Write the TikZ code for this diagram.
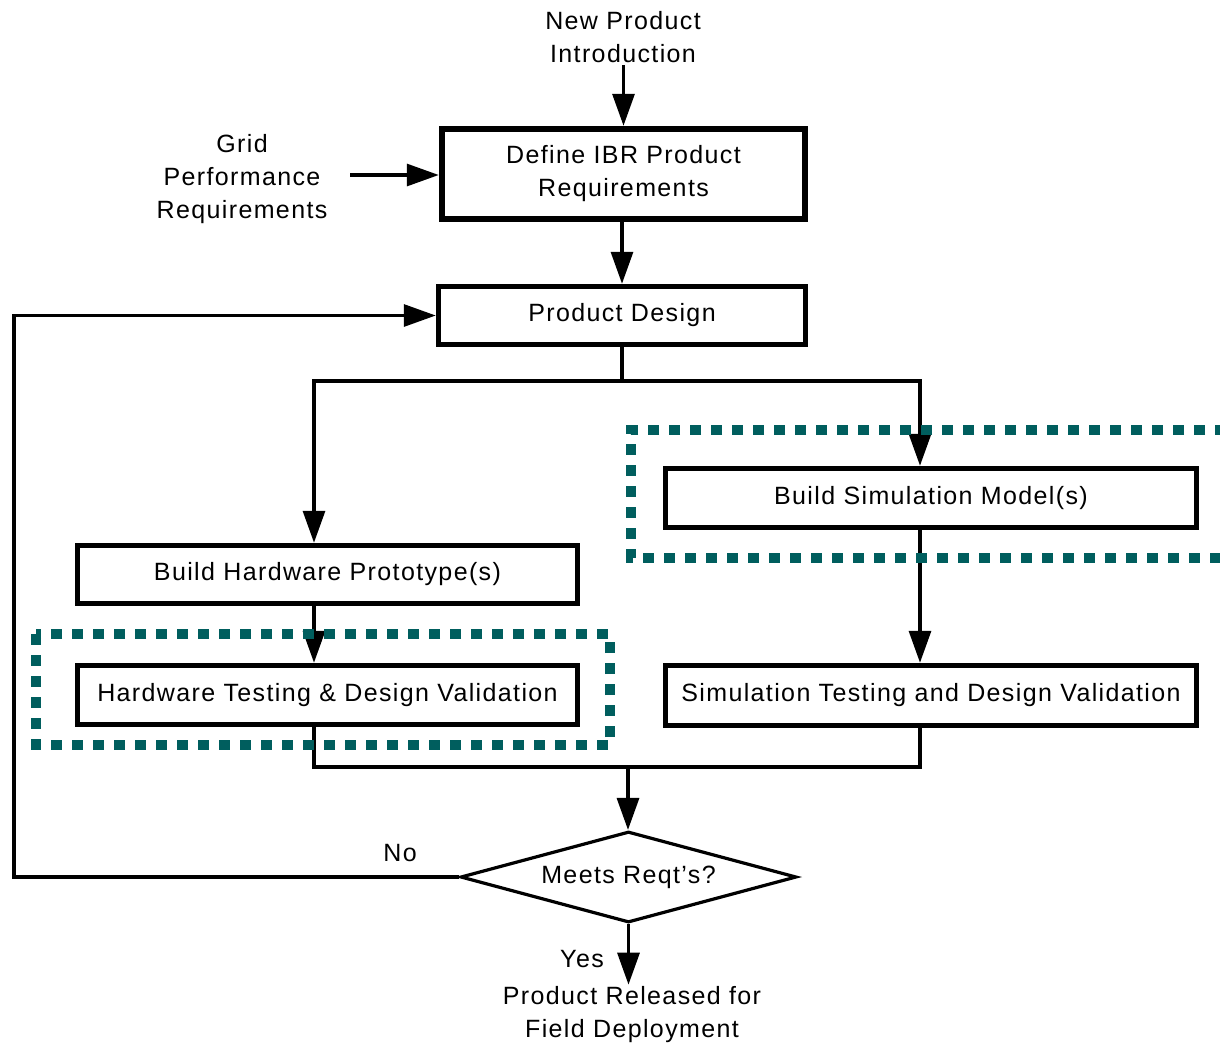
\documentclass[tikz,border=0pt]{standalone}
\usepackage{fontspec}
\setmainfont{Liberation Sans}[LetterSpace=5.5]
\usetikzlibrary{arrows.meta,shapes.geometric,calc}
\definecolor{dotteal}{RGB}{0,94,94}
\tikzset{
  every node/.style={font=\fontsize{25}{33}\selectfont},
  proc/.style={draw, line width=5.5pt, inner sep=0pt, align=center},
  txt/.style={align=center, inner sep=2pt},
  conn/.style={line width=3.2pt},
  arr/.style={line width=3.2pt, -{Triangle[length=32pt,width=22pt]}},
  dotbox/.style={draw=dotteal, line width=10pt, dash pattern=on 11pt off 10pt}
}
\begin{document}
\begin{tikzpicture}[x=1pt,y=-1pt]
\useasboundingbox (0,0) rectangle (1220,1045);
\fill[white] (0,0) rectangle (1220,1045);

% nodes
\node[txt] (np) at (623,37) {New Product\\Introduction};
\node[txt] (gr) at (242,179) {Grid\\Performance\\Requirements};
\node[proc, line width=6.5pt, minimum width=363pt, minimum height=90pt] (ibr) at (623.5,174) {Define IBR Product\\Requirements};
\node[proc, minimum width=367pt, minimum height=58pt] (pd) at (622,315.5) {Product Design};
\node[proc, minimum width=500pt, minimum height=58pt] (hw) at (327.5,574.5) {Build Hardware Prototype(s)};
\node[proc, minimum width=500pt, minimum height=59pt] (hwt) at (327.5,695) {Hardware Testing \& Design Validation};
\node[proc, minimum width=531pt, minimum height=59pt] (sim) at (931,498) {Build Simulation Model(s)};
\node[proc, minimum width=531pt, minimum height=60pt] (simt) at (931,695.5) {Simulation Testing and Design Validation};
\node[draw, diamond, line width=3.2pt, aspect=3.6, inner sep=0pt, minimum width=336pt, minimum height=91pt] (dia) at (628.5,877) {Meets Reqt's?};
\node[txt] (rel) at (632,1015) {Product Released for\\Field Deployment};
\node[txt] (no) at (400,853) {No};
\node[txt] (yes) at (582,959) {Yes};

% helper coordinates
\coordinate (gin) at (350,175);
\coordinate (split) at (622,381);
\coordinate (merge) at (628,767);
\coordinate (loop) at (14,877);

% connectors
\draw[arr] (np.south -| ibr.north) -- (ibr.north);
\draw[arr] (gin) -- (gin -| ibr.west);
\draw[arr] (ibr.south -| pd.north) -- (pd.north);
\draw[arr] (pd.south) -- (split) -| ([xshift=-13.5pt]hw.north);
\draw[arr] (split) -| ([xshift=-11pt]sim.north);
\draw[arr] ([xshift=-13.5pt]hw.south) -- ([xshift=-13.5pt]hwt.north);
\draw[arr] ([xshift=-11pt]sim.south) -- ([xshift=-11pt]simt.north);
\draw[conn] ([xshift=-13.5pt]hwt.south) |- (merge);
\draw[conn] ([xshift=-11pt]simt.south) |- (merge);
\draw[arr] (merge) -- (merge |- dia.north);
\draw[arr] (dia.west) -- (loop) |- (pd.west);
\draw[arr] (dia.south) -- (dia.south |- rel.north);

% dotted groupings
\draw[dotbox] (36,634) rectangle (610,745);
\draw[dotbox] (1226,430) -- (631,430) -- (631,558) -- (1226,558);
\end{tikzpicture}
\end{document}
